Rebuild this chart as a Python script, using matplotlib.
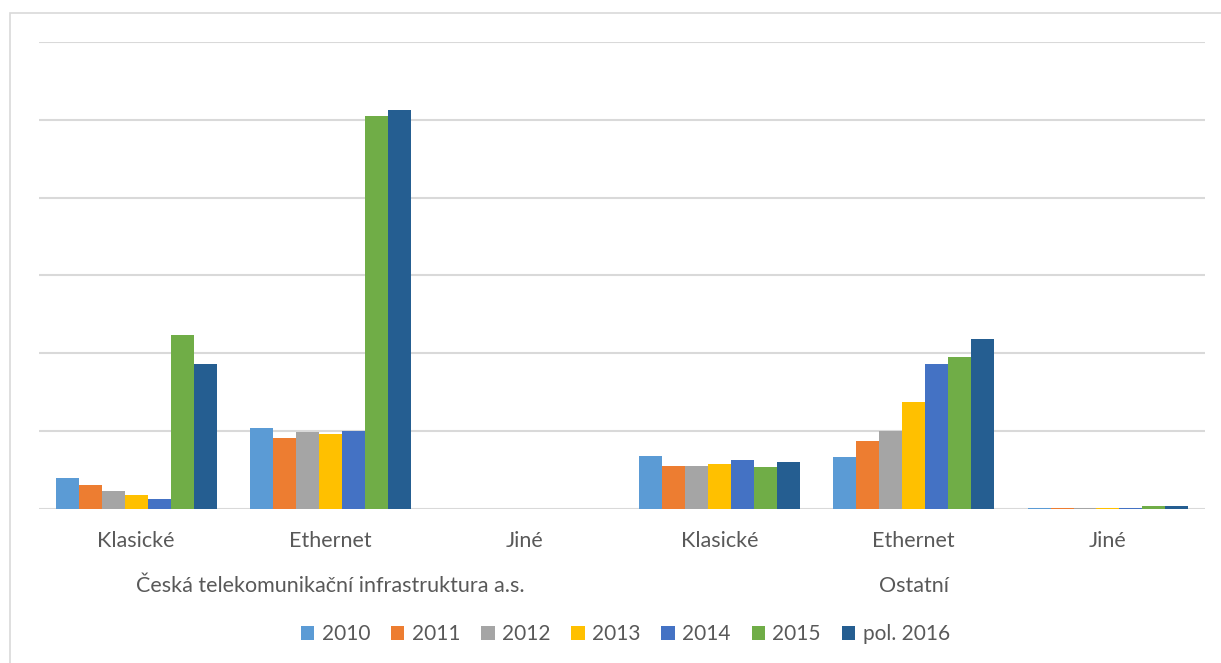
import matplotlib.pyplot as plt
import numpy as np
from matplotlib.patches import Rectangle

plt.rcParams['font.family'] = ['Lato', 'DejaVu Sans']

categories = ['Klasické', 'Ethernet', 'Jiné', 'Klasické', 'Ethernet', 'Jiné']
groups = ['Česká telekomunikační infrastruktura a.s.', 'Ostatní']
series = ['2010', '2011', '2012', '2013', '2014', '2015', 'pol. 2016']

v2010 = [40, 104, 0, 68, 67, 1]
v2011 = [31, 92, 0, 56, 87, 1]
v2012 = [23, 99, 0, 56, 101, 1]
v2013 = [18, 97, 0, 58, 138, 1]
v2014 = [13, 101, 0, 63, 186, 1.2]
v2015 = [224, 505, 0, 54, 195, 4.5]
v2016 = [187, 512, 0, 60, 218, 4.5]
values = [v2010, v2011, v2012, v2013, v2014, v2015, v2016]

colors = ['#5B9BD5', '#ED7D31', '#A5A5A5', '#FFC000', '#4472C4', '#70AD47', '#255E91']
text_col = '#595959'
fs = 15.5

fig = plt.figure(figsize=(12.21, 6.63), dpi=100)
ax = fig.add_axes([0.032, 0.232, 0.955, 0.705])

x = np.arange(len(categories))
w = 0.118
for i, (vals, c, lab) in enumerate(zip(values, colors, series)):
    ax.bar(x + (i - 3) * w, vals, w, color=c, label=lab, linewidth=0, zorder=3)

ax.set_xlim(-0.5, len(categories) - 0.5)
ax.set_ylim(0, 600)
ax.set_yticks(np.arange(0, 601, 100))
ax.yaxis.grid(True, color='#d9d9d9', linewidth=1.5, zorder=0)
ax.set_yticklabels([])
ax.tick_params(axis='y', length=0)
ax.tick_params(axis='x', length=0, labelsize=fs, labelcolor=text_col, pad=16)
ax.set_xticks(x)
ax.set_xticklabels(categories)
for s in ax.spines.values():
    s.set_visible(False)

# group labels under the categories
for gi, g in enumerate(groups):
    gx = (gi * 3 + 1 + 0.5) / len(categories)
    ax.text(gx, -0.165, g, transform=ax.transAxes, ha='center', va='center',
            fontsize=fs, color=text_col)

leg = fig.legend(loc='center', bbox_to_anchor=(0.512, 0.043), ncol=7, frameon=False,
                 fontsize=15, handlelength=0.65, handleheight=0.65, handletextpad=0.35,
                 columnspacing=1.0)
for t in leg.get_texts():
    t.set_color(text_col)

# outer frame
fig.patches.append(Rectangle((10 / 1221, -0.1), 1.2, 1 - 13 / 663 + 0.1, transform=fig.transFigure,
                             fill=False, edgecolor='#d9d9d9', linewidth=1.2))

fig.savefig('out.png', dpi=100)
